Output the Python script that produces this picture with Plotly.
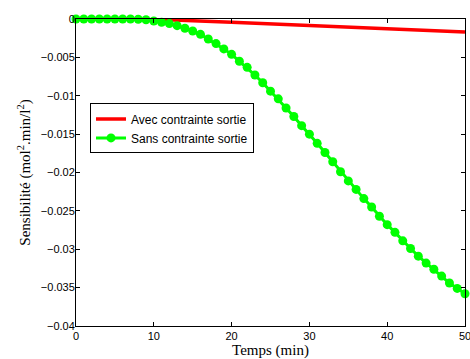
import plotly.graph_objects as go

# Data
temps = list(range(0, 51))
sans_contrainte = [0, 0, 0, 0, 0, 0, 0, 0, -0.00003, -0.0001,
                   -0.00026, -0.00043, -0.0006, -0.00087, -0.0012, -0.00156, -0.002, -0.0026, -0.0032, -0.0039,
                   -0.0046, -0.0055, -0.0063, -0.0073, -0.0083, -0.0094, -0.0104, -0.0116, -0.0127, -0.0139,
                   -0.015, -0.0162, -0.0174, -0.0186, -0.0199, -0.0211, -0.0222, -0.0234, -0.0245, -0.0257,
                   -0.0268, -0.0278, -0.0289, -0.0299, -0.0309, -0.0318, -0.0326, -0.0335, -0.0344, -0.0351,
                   -0.0358]
temps_avec = [0, 5, 10, 20, 30, 40, 50]
avec_contrainte = [0, 0, -0.00002, -0.00043, -0.00085, -0.00128, -0.0017]

x_ticks = [0, 10, 20, 30, 40, 50]
y_ticks = [0, -0.005, -0.01, -0.015, -0.02, -0.025, -0.03, -0.035, -0.04]
y_ticktext = ["0", "\u22120.005", "\u22120.01", "\u22120.015", "\u22120.02",
              "\u22120.025", "\u22120.03", "\u22120.035", "\u22120.04"]

fig = go.Figure()
fig.add_trace(go.Scatter(
    x=temps_avec, y=avec_contrainte, mode="lines",
    name="Avec contrainte sortie",
    line=dict(color="#ff0000", width=3.5),
))
fig.add_trace(go.Scatter(
    x=temps, y=sans_contrainte, mode="lines+markers",
    name="Sans contrainte sortie",
    line=dict(color="#00ff00", width=3),
    marker=dict(color="#00ff00", size=9, symbol="circle"),
    cliponaxis=False,
))

axis_common = dict(
    showgrid=False, zeroline=False, showline=True, linecolor="black",
    linewidth=1, mirror="ticks", ticks="inside", ticklen=4, tickcolor="black",
    ticklabeloverflow="allow", automargin=False,
    tickfont=dict(family="Liberation Sans, Arial", size=11, color="black"),
)

fig.update_layout(
    width=470, height=359,
    margin=dict(l=76, r=5, t=19, b=33),
    paper_bgcolor="white", plot_bgcolor="white",
    showlegend=True,
    legend=dict(
        x=0.036, y=0.725, xanchor="left", yanchor="top",
        bgcolor="white", bordercolor="black", borderwidth=1,
        font=dict(family="Liberation Sans, Arial", size=12, color="black"),
        tracegroupgap=0, itemwidth=30,
    ),
    xaxis=dict(
        range=[0, 50], tickvals=x_ticks,
        title=dict(text="Temps (min)", standoff=0,
                   font=dict(family="Liberation Serif, Times New Roman", size=15, color="black")),
        **axis_common,
    ),
    yaxis=dict(
        range=[-0.04, 0], tickvals=y_ticks, ticktext=y_ticktext, ticklabelstandoff=-2,
        title=dict(text="Sensibilité (mol<sup>2</sup>.min/l<sup>2</sup>)", standoff=6,
                   font=dict(family="Liberation Serif, Times New Roman", size=15, color="black")),
        **axis_common,
    ),
)

# Remove the default 8px body margin so the 470x359 figure fills the window exactly.
fig.write_html("out.html", config={"displayModeBar": False},
               post_script="document.body.style.margin='0';")
